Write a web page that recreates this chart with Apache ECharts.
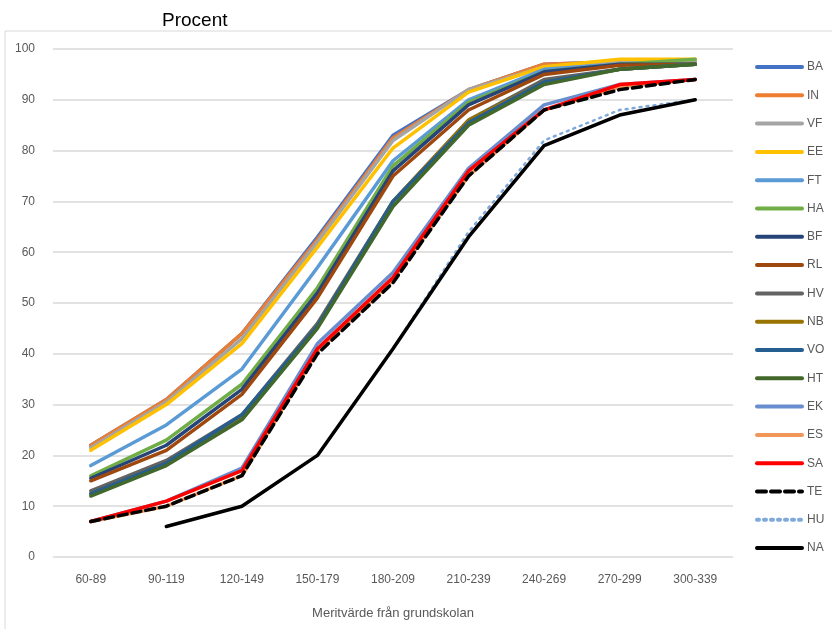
<!DOCTYPE html>
<html style="height: 100%">
<head>
<meta charset="utf-8">
<script src="https://cdn.jsdelivr.net/npm/echarts@6/dist/echarts.min.js"></script>
</head>
<body style="height: 100%; margin: 0; background: #fff">
<div id="container" style="width: 832px; height: 629px"></div>
<script type="text/javascript">
// meritvärde-intervall
var categories = ['60-89', '90-119', '120-149', '150-179', '180-209', '210-239', '240-269', '270-299', '300-339'];

var BA = [22, 31, 44, 63, 83, 92, 97, 97.5, 97.5];
var IN = [22, 31, 44, 62.5, 82.5, 92, 97, 97.5, 97.5];
var VF = [21.5, 30.5, 43, 62, 82, 92, 96.5, 97.5, 97.5];
var EE = [21, 30, 42, 61, 80.5, 91.5, 96.5, 98, 98];
var FT = [18, 26, 37, 57, 78, 90, 96, 97, 97];
var HA = [16, 23, 34, 53, 77, 89.5, 95.5, 97, 98];
var BF = [15.5, 22, 33, 52, 76, 89, 95.5, 97, 97];
var RL = [15, 21, 32, 51, 75, 88, 95, 96.8, 97];
var HV = [13, 19, 28, 46, 70, 86, 94, 96, 97];
var NB = [12.5, 18.5, 27.5, 45.5, 70, 86, 93.5, 96, 97];
var VO = [12.5, 18.5, 28, 45.5, 70, 85.5, 93.5, 96, 97];
var HT = [12, 18, 27, 45, 69, 85, 93, 96, 97];
var EK = [7, 11, 17.5, 42, 56, 76.5, 89, 93, 94];
var ES = [7, 10, 16, 40.5, 54.5, 75, 88, 92.5, 94];
var SA = [7, 11, 17, 41, 55, 76, 88, 93, 94];
var TE = [7, 10, 16, 40, 54, 75, 88, 92, 94];
var HU = [null, null, 10, 20, 41, 64, 82, 88, 90];
var NA = [null, 6, 10, 20, 41, 63, 81, 87, 90];

var dom = document.getElementById('container');
var myChart = echarts.init(dom);

function serie(name, data, color, type, width) {
	return {
		name: name,
		type: 'line',
		data: data,
		symbol: 'none',
		connectNulls: false,
		lineStyle: { color: color, width: width || 3.5, type: type || 'solid', cap: 'round' },
		itemStyle: { color: color }
	};
}

var series = [
	serie('BA', BA, '#4472C4'),
	serie('IN', IN, '#ED7D31'),
	serie('VF', VF, '#A5A5A5'),
	serie('EE', EE, '#FFC000'),
	serie('FT', FT, '#5B9BD5'),
	serie('HA', HA, '#70AD47'),
	serie('BF', BF, '#264478'),
	serie('RL', RL, '#9E480E'),
	serie('HV', HV, '#636363'),
	serie('NB', NB, '#997300'),
	serie('VO', VO, '#255E91'),
	serie('HT', HT, '#43682B'),
	serie('EK', EK, '#698ED0'),
	serie('ES', ES, '#F1975A'),
	serie('SA', SA, '#FF0000'),
	serie('TE', TE, '#000000', [9, 5]),
	serie('HU', HU, '#7EA9DB', [2, 5], 2.5),
	serie('NA', NA, '#000000')
];

var option = {
	animation: false,
	textStyle: { fontFamily: 'Liberation Sans' },
	title: {
		text: 'Procent',
		left: 157,
		top: 6,
		textStyle: { fontSize: 19, fontWeight: 'normal', color: '#000' }
	},
	graphic: [{
		type: 'rect',
		shape: { x: 5, y: 31, width: 900, height: 700 },
		style: { fill: 'none', stroke: '#d9d9d9', lineWidth: 1 },
		silent: true
	}],
	legend: {
		orient: 'vertical',
		left: 750,
		top: 56,
		itemWidth: 45,
		itemHeight: 14,
		itemGap: 16.3,
		itemStyle: { opacity: 0 },
		lineStyle: { width: 4 },
		textStyle: { fontSize: 12, color: '#595959' },
		data: series.map(function (s) { return s.name; })
	},
	grid: {
		left: 53,
		right: 99,
		top: 49,
		bottom: 72,
		containLabel: false
	},
	xAxis: {
		type: 'category',
		data: categories,
		boundaryGap: true,
		name: 'Meritvärde från grundskolan',
		nameLocation: 'middle',
		nameGap: 50,
		nameTextStyle: { fontSize: 13, color: '#595959' },
		axisLine: { show: false },
		axisTick: { show: false },
		axisLabel: { fontSize: 12, color: '#595959', margin: 17 }
	},
	yAxis: {
		type: 'value',
		min: 0,
		max: 100,
		interval: 10,
		axisLine: { show: false },
		axisTick: { show: false },
		axisLabel: { fontSize: 12, color: '#595959', margin: 18 },
		splitLine: { lineStyle: { color: '#d9d9d9', width: 1.5 } }
	},
	series: series
};

myChart.setOption(option, true);
</script>
</body>
</html>
